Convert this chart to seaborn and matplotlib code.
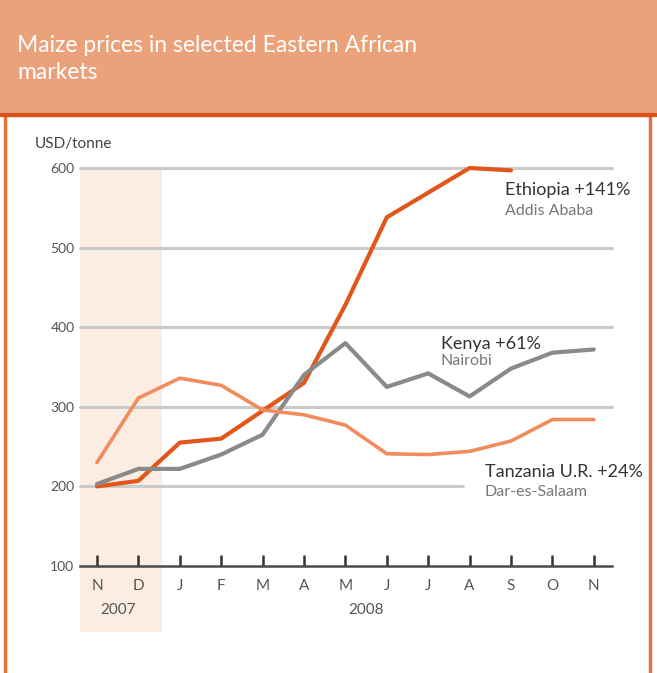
import numpy as np
import pandas as pd
import matplotlib
matplotlib.use("Agg")
import matplotlib.pyplot as plt
import seaborn as sns
from matplotlib.patches import Rectangle

sns.set_theme(style="white")
plt.rcParams['font.family'] = ['Lato', 'DejaVu Sans']

# data (USD/tonne)
months = ["N", "D", "J", "F", "M", "A", "M", "J", "J", "A", "S", "O", "N"]
ethiopia = [200, 207, 255, 260, 295, 330, 428, 538, 569, 600, 597]
kenya = [203, 222, 222, 240, 265, 340, 380, 325, 342, 313, 348, 368, 372]
tanzania = [230, 311, 336, 327, 296, 290, 277, 241, 240, 244, 257, 284, 284]
series_names = ["Ethiopia", "Kenya", "Tanzania"]
yticks = [100, 200, 300, 400, 500, 600]

rows = []
for name, vals in zip(series_names, [ethiopia, kenya, tanzania]):
    for i, v in enumerate(vals):
        rows.append({"idx": i, "price": v, "market": name})
df = pd.DataFrame(rows)

colors = {"Ethiopia": "#E2561C", "Kenya": "#8A8A8A", "Tanzania": "#F28C5C"}
widths = {"Ethiopia": 3.0, "Kenya": 3.0, "Tanzania": 2.6}

W, H = 657, 673
fig = plt.figure(figsize=(W / 100, H / 100), dpi=100)

# title band + frame
fig.patches.append(Rectangle((0, 1 - 113 / H), 1, 113 / H, transform=fig.transFigure,
                             facecolor="#EBA27B", edgecolor="none", zorder=0))
fig.patches.append(Rectangle((5 / W, -0.05), 645 / W, 0.05 + (H - 115) / H,
                             transform=fig.transFigure, facecolor="white",
                             edgecolor="#E4733A", lw=2.5, zorder=0))
fig.lines.append(plt.Line2D([0, 1], [1 - 115 / H, 1 - 115 / H], transform=fig.transFigure,
                            color="#D9531D", lw=3))
fig.text(17 / W, 1 - 59 / H, "Maize prices in selected Eastern African\nmarkets",
         color="white", fontsize=16.5, va="center", ha="left", linespacing=1.3)

# 2007 shading
fig.patches.append(Rectangle((80 / W, (H - 632) / H), 82 / W, (632 - 168) / H,
                             transform=fig.transFigure, facecolor="#FCEDE3",
                             edgecolor="none", zorder=0.5))

ax = fig.add_axes([80 / W, (H - 566) / H, 532 / W, (566 - 168) / H])
ax.set_zorder(2)
ax.set_facecolor("none")
ax.set_xlim(-0.41, 12.44)
ax.set_ylim(100, 600)

for y in yticks[1:]:
    xmax = 0.72 if y == 200 else 1
    ax.axhline(y, xmax=xmax, color="#CACACA", lw=2.2, zorder=1, clip_on=False)

sns.lineplot(data=df, x="idx", y="price", hue="market", palette=colors,
             ax=ax, legend=False, zorder=3, lw=3)
for line, name in zip(ax.get_lines()[-3:], series_names):
    line.set_linewidth(widths[name])
    line.set_clip_on(False)

for s in ["top", "right", "left"]:
    ax.spines[s].set_visible(False)
ax.spines["bottom"].set_color("#4A4A4A")
ax.spines["bottom"].set_linewidth(1.8)

ax.set_yticks(yticks)
ax.set_yticklabels([str(v) for v in yticks])
ax.set_xticks(range(len(months)))
ax.set_xticklabels(months)
ax.tick_params(axis="x", bottom=True, direction="in", length=8, width=1.8, color="#333333",
               labelsize=11, labelcolor="#555555", pad=9)
ax.tick_params(axis="y", length=0, labelsize=10, labelcolor="#555555", pad=4)
ax.set_xlabel("")
ax.set_ylabel("")

ax.text(0.5, -0.11, "2007", transform=ax.get_xaxis_transform(), ha="center", va="center",
        fontsize=11, color="#555555")
ax.text(6.5, -0.11, "2008", transform=ax.get_xaxis_transform(), ha="center", va="center",
        fontsize=11, color="#555555")
fig.text(35 / W, 1 - 144 / H, "USD/tonne", fontsize=11, color="#444444", va="center")

# series labels
ax.text(9.85, 572, "Ethiopia +141%", fontsize=13, color="#333333", va="center")
ax.text(9.85, 546, "Addis Ababa", fontsize=11.5, color="#777777", va="center")
ax.text(8.3, 379, "Kenya +61%", fontsize=13, color="#333333", va="center")
ax.text(8.3, 358, "Nairobi", fontsize=11.5, color="#777777", va="center")
ax.text(9.37, 218, "Tanzania U.R. +24%", fontsize=13, color="#333333", va="center")
ax.text(9.37, 193, "Dar-es-Salaam", fontsize=11.5, color="#777777", va="center")

fig.savefig("out.png", dpi=100)
